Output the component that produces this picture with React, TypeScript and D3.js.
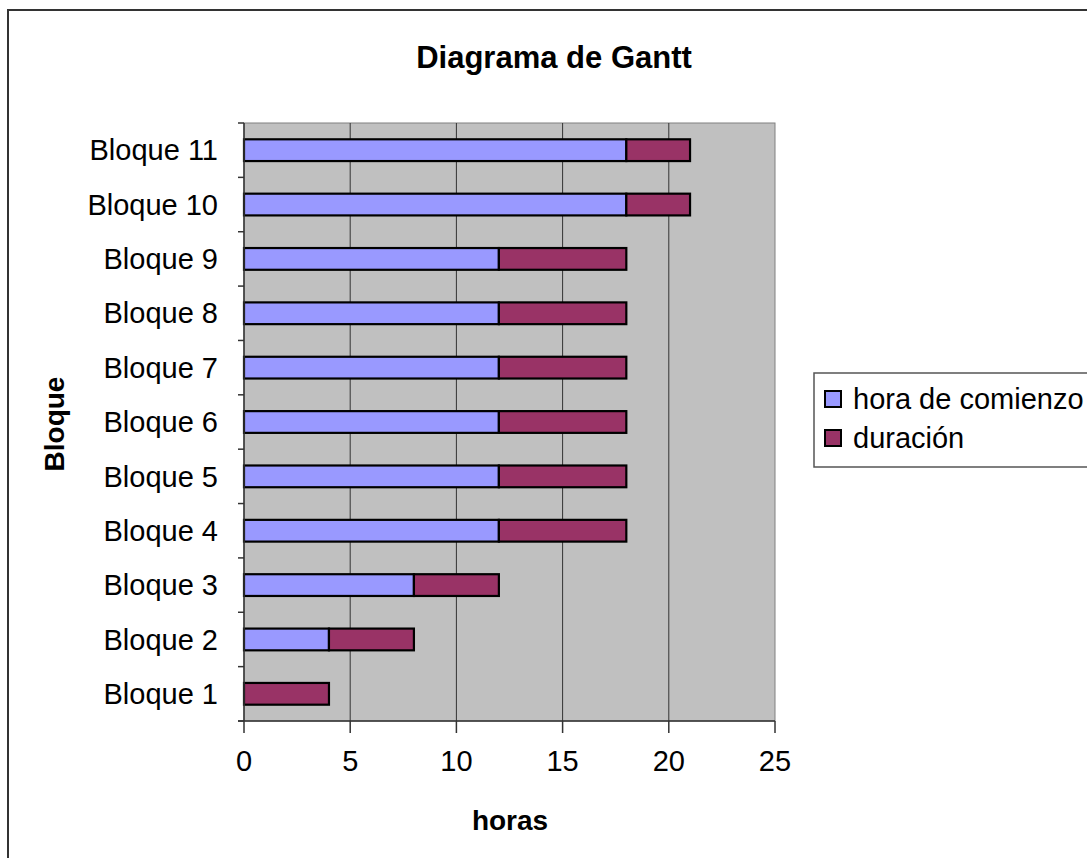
import { useRef, useEffect } from 'react';
import * as d3 from 'd3';

const categories = ['Bloque 1', 'Bloque 2', 'Bloque 3', 'Bloque 4', 'Bloque 5', 'Bloque 6', 'Bloque 7', 'Bloque 8', 'Bloque 9', 'Bloque 10', 'Bloque 11'];
const startHours = [0, 4, 8, 12, 12, 12, 12, 12, 12, 18, 18];
const durations = [4, 4, 4, 6, 6, 6, 6, 6, 6, 3, 3];
const xTicks = [0, 5, 10, 15, 20, 25];
const seriesNames = ['hora de comienzo', 'duración'];
const seriesColors = ['#9999FF', '#993366'];

const FONT = '"Liberation Sans", Arial, sans-serif';

export default function App() {
  const svgRef = useRef<SVGSVGElement>(null);

  useEffect(() => {
    if (!svgRef.current) return;
    const svg = d3.select(svgRef.current);
    svg.selectAll('*').remove();

    const plot = { left: 244, right: 775, top: 123, bottom: 721 };

    const x = d3.scaleLinear().domain([0, 25]).range([plot.left, plot.right]);
    const y = d3.scaleBand<string>()
      .domain([...categories].reverse())
      .range([plot.top, plot.bottom])
      .paddingInner(0.6)
      .paddingOuter(0.3);

    // chart frame (runs off the page right and bottom)
    svg.append('rect')
      .attr('x', 8).attr('y', 10)
      .attr('width', 1200).attr('height', 1000)
      .attr('fill', '#fff')
      .attr('stroke', '#333').attr('stroke-width', 2);

    // plot area
    svg.append('rect')
      .attr('x', plot.left).attr('y', plot.top)
      .attr('width', plot.right - plot.left).attr('height', plot.bottom - plot.top)
      .attr('fill', '#C0C0C0')
      .attr('stroke', '#808080').attr('stroke-width', 1);

    // vertical gridlines
    svg.append('g')
      .selectAll('line')
      .data(xTicks.slice(1, -1))
      .join('line')
      .attr('x1', d => x(d)).attr('x2', d => x(d))
      .attr('y1', plot.top).attr('y2', plot.bottom)
      .attr('stroke', '#333').attr('stroke-width', 1);

    // bars
    const rows = categories.map((c, i) => ({ c, start: startHours[i], dur: durations[i] }));
    const bars = svg.append('g');
    rows.forEach(r => {
      if (r.start > 0) {
        bars.append('rect')
          .attr('x', x(0)).attr('y', y(r.c)!)
          .attr('width', x(r.start) - x(0)).attr('height', y.bandwidth())
          .attr('fill', seriesColors[0])
          .attr('stroke', '#000').attr('stroke-width', 2.2);
      }
      bars.append('rect')
        .attr('x', x(r.start)).attr('y', y(r.c)!)
        .attr('width', x(r.start + r.dur) - x(r.start)).attr('height', y.bandwidth())
        .attr('fill', seriesColors[1])
        .attr('stroke', '#000').attr('stroke-width', 2.2);
    });

    // x axis
    const xAxis = svg.append('g');
    xAxis.append('line')
      .attr('x1', plot.left - 6).attr('x2', plot.right)
      .attr('y1', plot.bottom).attr('y2', plot.bottom)
      .attr('stroke', '#333').attr('stroke-width', 1.5);
    xAxis.selectAll('line.tick')
      .data(xTicks)
      .join('line')
      .attr('class', 'tick')
      .attr('x1', d => x(d)).attr('x2', d => x(d))
      .attr('y1', plot.bottom).attr('y2', plot.bottom + 12)
      .attr('stroke', '#333').attr('stroke-width', 1.5);
    xAxis.selectAll('text')
      .data(xTicks)
      .join('text')
      .attr('x', d => x(d)).attr('y', 771)
      .attr('text-anchor', 'middle')
      .attr('font-family', FONT).attr('font-size', 29)
      .text(d => d);

    // y axis
    const yAxis = svg.append('g');
    yAxis.append('line')
      .attr('x1', plot.left).attr('x2', plot.left)
      .attr('y1', plot.top).attr('y2', plot.bottom)
      .attr('stroke', '#333').attr('stroke-width', 1.5);
    const step = (plot.bottom - plot.top) / categories.length;
    yAxis.selectAll('line.tick')
      .data(d3.range(categories.length + 1))
      .join('line')
      .attr('class', 'tick')
      .attr('x1', plot.left - 6).attr('x2', plot.left)
      .attr('y1', i => plot.top + i * step).attr('y2', i => plot.top + i * step)
      .attr('stroke', '#333').attr('stroke-width', 1.5);
    yAxis.selectAll('text')
      .data(categories)
      .join('text')
      .attr('x', 218)
      .attr('y', d => y(d)! + y.bandwidth() / 2)
      .attr('dy', '0.35em')
      .attr('text-anchor', 'end')
      .attr('font-family', FONT).attr('font-size', 29)
      .text(d => d);

    // titles
    svg.append('text')
      .attr('x', 554).attr('y', 68)
      .attr('text-anchor', 'middle')
      .attr('font-family', FONT).attr('font-size', 31).attr('font-weight', 700)
      .text('Diagrama de Gantt');
    svg.append('text')
      .attr('x', 510).attr('y', 830)
      .attr('text-anchor', 'middle')
      .attr('font-family', FONT).attr('font-size', 28).attr('font-weight', 700)
      .text('horas');
    svg.append('text')
      .attr('transform', 'translate(64, 424) rotate(-90)')
      .attr('text-anchor', 'middle')
      .attr('font-family', FONT).attr('font-size', 28).attr('font-weight', 700)
      .text('Bloque');

    // legend
    const legend = svg.append('g');
    legend.append('rect')
      .attr('x', 814).attr('y', 373)
      .attr('width', 400).attr('height', 94)
      .attr('fill', '#fff')
      .attr('stroke', '#555').attr('stroke-width', 1.5);
    seriesNames.forEach((name, i) => {
      const cy = 399 + i * 39;
      legend.append('rect')
        .attr('x', 825).attr('y', cy - 8)
        .attr('width', 16).attr('height', 16)
        .attr('fill', seriesColors[i])
        .attr('stroke', '#000').attr('stroke-width', 2);
      legend.append('text')
        .attr('x', 853).attr('y', cy)
        .attr('dy', '0.35em')
        .attr('font-family', FONT).attr('font-size', 29)
        .text(name);
    });
  }, []);

  return (
    <svg
      ref={svgRef}
      width={1087}
      height={858}
      style={{ position: 'absolute', left: 0, top: 0, display: 'block' }}
    />
  );
}
